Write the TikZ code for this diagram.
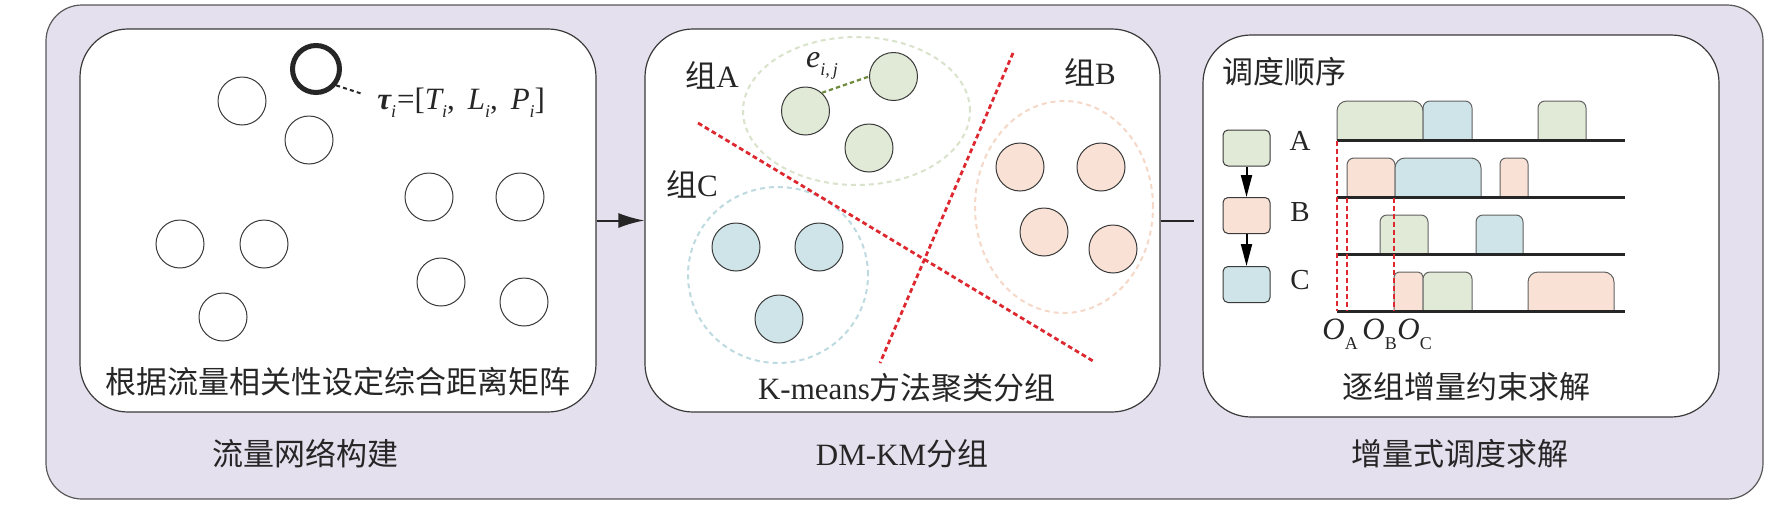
\documentclass[tikz,border=0pt]{standalone}
\usepackage{fontspec}
\setmainfont{Liberation Serif}
\newfontfamily\cjk{Noto Sans CJK SC}
\usetikzlibrary{arrows.meta}
\definecolor{outerfill}{HTML}{E5E0ED}
\definecolor{strokeg}{HTML}{3A3A3A}
\definecolor{textc}{HTML}{262626}
\definecolor{gfill}{HTML}{E0EAD6}
\definecolor{bfill}{HTML}{CEE4E9}
\definecolor{ofill}{HTML}{F9E1D5}
\definecolor{gell}{HTML}{D9E3CB}
\definecolor{bell}{HTML}{BEDAE1}
\definecolor{oell}{HTML}{F5D8C8}
\definecolor{redd}{HTML}{DD2830}
\definecolor{edgegreen}{HTML}{6E8C3C}
\newcommand{\schbar}[5]{\draw[sbarst,fill=#1,rounded corners=#5] (#2,#4) -- (#2,#4-39) -- (#3,#4-39) -- (#3,#4);}
\newcommand{\lowsub}[2]{\raisebox{-#1}{\fontsize{9}{10}\selectfont #2}}
\begin{document}
\begin{tikzpicture}[x=0.5pt,y=-0.5pt,
  outerbox/.style={draw=strokeg!85, line width=0.6pt, fill=outerfill, rounded corners=18pt},
  panel/.style={draw=strokeg, line width=0.6pt, fill=white, rounded corners=24pt, inner sep=0pt},
  plainc/.style={circle, draw=strokeg, line width=0.5pt, fill=white, minimum size=24pt, inner sep=0pt},
  fc/.style={circle, draw=strokeg, line width=0.5pt, minimum size=24pt, inner sep=0pt},
  cjkl/.style={font=\cjk\fontsize{15.5}{18}\selectfont, text=textc, inner sep=0pt},
  mixl/.style={font=\fontsize{15.5}{18}\selectfont, text=textc, inner sep=0pt},
  abcl/.style={font=\fontsize{14.5}{16}\selectfont, text=textc, inner sep=0pt},
  ol/.style={font=\fontsize{15.5}{17}\selectfont, text=textc, inner sep=0pt},
  ell/.style={line width=1pt, dash pattern=on 2.5pt off 2pt},
  reddash/.style={draw=redd, line width=1.4pt, dash pattern=on 2.4pt off 1.6pt},
  flowarrow/.style={draw=textc, line width=1pt, -{Latex[length=13pt,width=7.5pt]}},
  sqnode/.style={draw=strokeg, line width=0.5pt, rounded corners=2.5pt, minimum width=23.5pt, minimum height=18pt, inner sep=0pt},
  sqarrow/.style={draw=black, line width=1pt, -{Triangle[length=11pt,width=5.5pt]}},
  sbarst/.style={draw=strokeg!80, line width=0.5pt},
  tline/.style={draw=textc, line width=1.5pt}
]
\useasboundingbox (0,0) rectangle (1772,504);
\draw[outerbox] (46,5) rectangle (1763,499);

% panels
\node[panel, minimum width=258pt, minimum height=191.5pt] (p1) at (338,220.5) {};
\node[panel, minimum width=257.5pt, minimum height=191.5pt] (p2) at (902.5,220.5) {};
\node[panel, minimum width=258pt, minimum height=191pt] (p3) at (1461,226) {};

% connectors between panels
\draw[flowarrow] (p1.east) -- (p2.west);
\coordinate (gapend) at (1194,220.5);
\draw[draw=textc, line width=1pt] (p2.east) -- (gapend);

% bottom labels
\node[cjkl] (l1) at (305,454) {流量网络构建};
\node[mixl] (l2) at (902,454) {DM-KM{\cjk 分组}};
\node[cjkl] (l3) at (1460,454) {增量式调度求解};

% ---- panel 1 ----
\node[plainc] (c1) at (242,101) {};
\node[plainc] (c2) at (309,140) {};
\node[plainc] (c3) at (429,197) {};
\node[plainc] (c4) at (520,197) {};
\node[plainc] (c5) at (180,244) {};
\node[plainc] (c6) at (264,244) {};
\node[plainc] (c7) at (441,282) {};
\node[plainc] (c8) at (524,302) {};
\node[plainc] (c9) at (223,317) {};
\node[circle, draw=textc, line width=2.5pt, fill=white, minimum size=23.5pt, inner sep=0pt] (bc) at (316,69) {};
\node[font=\fontsize{15.5}{17}\selectfont, text=textc, inner sep=0pt, anchor=west] (tau) at (377,103)
  {{\bfseries\itshape τ}\lowsub{4pt}{\itshape i}\kern0.5pt=[{\itshape T}\lowsub{4pt}{\itshape i},\, {\itshape L}\lowsub{4pt}{\itshape i},\, {\itshape P}\lowsub{4pt}{\itshape i}]};
\coordinate (tauend) at (361,93.5);
\draw[draw=textc, line width=1pt, dash pattern=on 2pt off 1.6pt] (bc.-39) -- (tauend);
\node[cjkl] (t1) at (338,382) {根据流量相关性设定综合距离矩阵};

% ---- panel 2 ----
\draw[draw=gell, ell] (856.5,111) ellipse [x radius=56.75pt, y radius=37pt];
\draw[draw=bell, ell] (778,275) ellipse [x radius=45pt, y radius=44pt];
\draw[draw=oell, ell] (1064,207) ellipse [x radius=44.5pt, y radius=53pt];
\node[fc, fill=gfill] (g1) at (805.5,111) {};
\node[fc, fill=gfill] (g2) at (893.5,76.5) {};
\node[fc, fill=gfill] (g3) at (869,148) {};
\draw[draw=edgegreen, line width=1.1pt, dash pattern=on 2.2pt off 1.5pt] (g1.48) -- (g2.180);
\node[font=\fontsize{16}{17}\selectfont, text=textc, inner sep=0pt] (eij) at (822,66) {{\itshape e}\lowsub{4pt}{\itshape i,\,j}};
\node[fc, fill=bfill] (bl1) at (736,247) {};
\node[fc, fill=bfill] (bl2) at (819,247) {};
\node[fc, fill=bfill] (bl3) at (779,319) {};
\node[fc, fill=ofill] (o1) at (1020,167) {};
\node[fc, fill=ofill] (o2) at (1101,167) {};
\node[fc, fill=ofill] (o3) at (1044,232) {};
\node[fc, fill=ofill] (o4) at (1113,249) {};
\draw[reddash] (698,123) -- (1093,361);
\draw[reddash] (1013,53) -- (880,363);
\node[mixl] (gA) at (712,75) {{\cjk 组}A};
\node[mixl] (gC) at (692,184) {{\cjk 组}C};
\node[mixl] (gB) at (1090,72) {{\cjk 组}B};
\node[mixl] (t2) at (907,388) {K-means{\cjk 方法聚类分组}};

% ---- panel 3 ----
\node[cjkl] (ord) at (1284,72) {调度顺序};
\node[sqnode, fill=gfill] (sqA) at (1246.5,148) {};
\node[sqnode, fill=ofill] (sqB) at (1246.5,215.5) {};
\node[sqnode, fill=bfill] (sqC) at (1246.5,284.5) {};
\draw[sqarrow] (sqA) -- (sqB);
\draw[sqarrow] (sqB) -- (sqC);
\node[abcl] (lA) at (1300,141) {A};
\node[abcl] (lB) at (1300,212) {B};
\node[abcl] (lC) at (1300,280) {C};

% bars
\schbar{gfill}{1337}{1423}{140}{5pt}
\schbar{bfill}{1423}{1472}{140}{3.5pt}
\schbar{gfill}{1538}{1586}{140}{3.5pt}
\schbar{ofill}{1347}{1395}{197}{3.5pt}
\schbar{bfill}{1395}{1481}{197}{5pt}
\schbar{ofill}{1500}{1528}{197}{3pt}
\schbar{gfill}{1380}{1428}{254}{3.5pt}
\schbar{bfill}{1476}{1523}{254}{3.5pt}
\schbar{ofill}{1394}{1423}{311}{2.5pt}
\schbar{gfill}{1423}{1472}{311}{3.5pt}
\schbar{ofill}{1528}{1614}{311}{5pt}

\draw[tline] (1337,140) -- (1625,140);
\draw[tline] (1337,197) -- (1625,197);
\draw[tline] (1337,254) -- (1625,254);
\draw[tline] (1337,311) -- (1625,311);

\draw[reddash] (1337,141) -- (1337,311);
\draw[reddash] (1347,198) -- (1347,311);
\draw[reddash] (1394,198) -- (1394,311);

\node[ol, anchor=west] (oA) at (1322,334) {{\itshape O}\lowsub{5pt}{A}};
\node[ol, anchor=west] (oB) at (1362,334) {{\itshape O}\lowsub{5pt}{B}};
\node[ol, anchor=west] (oC) at (1397,334) {{\itshape O}\lowsub{5pt}{C}};

\node[cjkl] (t3) at (1466,387) {逐组增量约束求解};
\end{tikzpicture}
\end{document}
